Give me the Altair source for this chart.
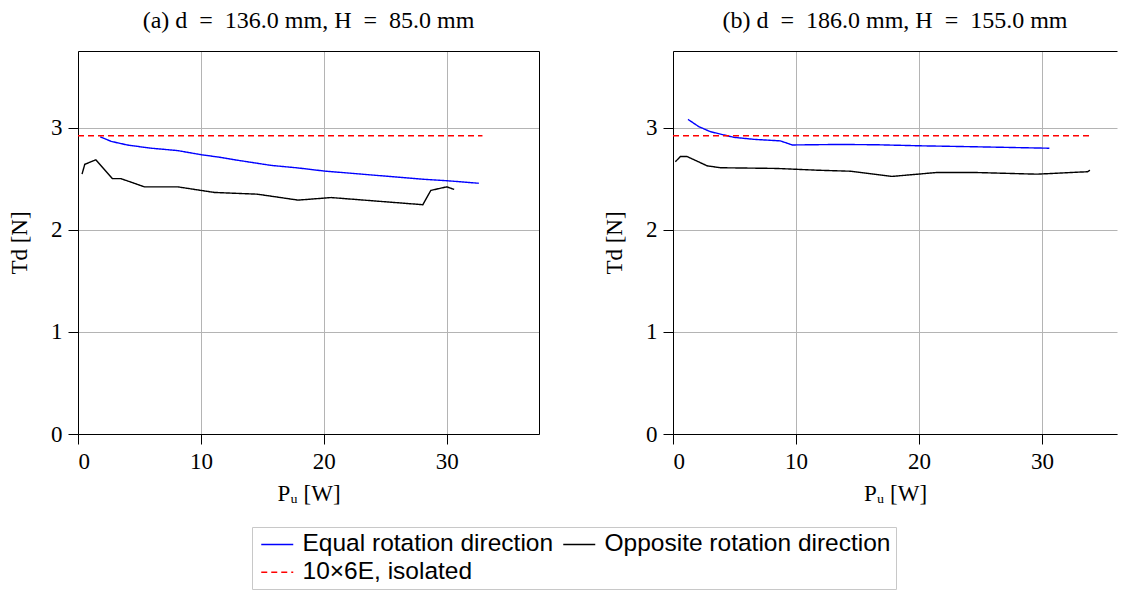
import altair as alt
import pandas as pd

# ---- data ----
series_names = ["Equal rotation direction", "Opposite rotation direction", "10\u00d76E, isolated"]
series_colors = ["#0000ff", "#000000", "#ff0000"]

# panel (a)
a_equal_P = [1.8, 2.7, 4.0, 5.8, 8.1, 10.0, 11.5, 13.0, 15.7, 17.9, 20.0, 23.0, 26.0, 28.0, 30.0, 32.6]
a_equal_T = [2.91, 2.865, 2.83, 2.80, 2.775, 2.735, 2.71, 2.68, 2.63, 2.605, 2.575, 2.545, 2.515, 2.495, 2.48, 2.455]
a_opp_P = [0.33, 0.55, 1.45, 2.8, 3.5, 5.4, 8.1, 11.1, 14.6, 17.9, 20.6, 28.05, 28.7, 30.0, 30.6]
a_opp_T = [2.545, 2.64, 2.685, 2.50, 2.50, 2.42, 2.42, 2.365, 2.348, 2.29, 2.315, 2.245, 2.385, 2.42, 2.395]
a_iso_P = [0.0, 32.9]
a_iso_T = [2.92, 2.92]

# panel (b)
b_equal_P = [1.22, 2.09, 3.04, 4.94, 6.57, 8.73, 9.69, 13.5, 16.6, 20.0, 24.7, 30.6]
b_equal_T = [3.08, 3.01, 2.96, 2.905, 2.885, 2.87, 2.83, 2.835, 2.832, 2.822, 2.812, 2.798]
b_opp_P = [0.19, 0.6, 1.14, 2.77, 3.85, 8.46, 11.7, 14.4, 17.8, 21.5, 24.7, 29.6, 33.7, 33.9]
b_opp_T = [2.665, 2.717, 2.717, 2.626, 2.607, 2.60, 2.583, 2.573, 2.522, 2.561, 2.56, 2.544, 2.568, 2.583]
b_iso_P = [0.0, 34.1]
b_iso_T = [2.92, 2.92]

x_ticks = [0, 10, 20, 30]
y_ticks = [0, 1, 2, 3]
x_domain_a = [0, 37.5]
x_domain_b = [0, 36.1]   # right panel is cut by the figure edge in the reference
y_domain = [0, 3.75]

titles = ["(a) d\u2002=\u2002136.0 mm, H\u2002=\u200285.0 mm",
          "(b) d\u2002=\u2002186.0 mm, H\u2002=\u2002155.0 mm"]


def frame(parts):
    rows = []
    for name, P, T in parts:
        for p, t in zip(P, T):
            rows.append({"P": p, "T": t, "series": name})
    return pd.DataFrame(rows)


df_a = frame([(series_names[0], a_equal_P, a_equal_T),
              (series_names[1], a_opp_P, a_opp_T),
              (series_names[2], a_iso_P, a_iso_T)])
df_b = frame([(series_names[0], b_equal_P, b_equal_T),
              (series_names[1], b_opp_P, b_opp_T),
              (series_names[2], b_iso_P, b_iso_T)])

SERIF = "Liberation Serif"
SANS = "Liberation Sans"
FS = 23

# long legend line drawn with a custom path: slot of 16 px, line of 32 px
legend = alt.Legend(
    title=None, orient="none", legendX=174, legendY=476,
    columns=2, direction="horizontal",
    symbolType="M-1,0H3", symbolSize=256, symbolStrokeWidth=1.5,
    labelFont=SANS, labelFontSize=24.5, labelColor="#000000", labelLimit=0,
    labelOffset=21, columnPadding=5, rowPadding=3, padding=5,
    fillColor="#ffffff", strokeColor="#c8c8c8",
)

edge_axis = dict(labels=False, ticks=False, grid=False, domain=True, title=None)


def panel(df, xdom, w, title, right_edge):
    xs = alt.Scale(domain=xdom, nice=False, zero=False)
    ys = alt.Scale(domain=y_domain, nice=False, zero=False)
    data_lines = alt.Chart(df).mark_line(strokeWidth=1.4, clip=True).encode(
        x=alt.X("P:Q", scale=xs, axis=alt.Axis(values=x_ticks, title="P\u1d64 [W]")),
        y=alt.Y("T:Q", scale=ys, axis=alt.Axis(values=y_ticks, title="Td [N]")),
        color=alt.Color("series:N", scale=alt.Scale(domain=series_names, range=series_colors),
                        sort=series_names, legend=legend),
        strokeDash=alt.StrokeDash("series:N",
                                  scale=alt.Scale(domain=series_names, range=[[1, 0], [1, 0], [6, 4]]),
                                  sort=series_names, legend=legend),
        detail="series:N",
    ).properties(
        width=w, height=383,
        title=alt.TitleParams(title, font=SERIF, fontSize=24, fontWeight="normal",
                              color="#000000", offset=18, anchor="middle"),
    )
    # invisible layer that only carries the top (and optionally right) frame lines
    y_edge = alt.Axis(orient="right", **edge_axis) if right_edge else None
    edges = alt.Chart(df).mark_line(opacity=0).encode(
        x=alt.X("P:Q", scale=xs, axis=alt.Axis(orient="top", **edge_axis)),
        y=alt.Y("T:Q", scale=ys, axis=y_edge),
    )
    return alt.layer(data_lines, edges).resolve_axis(x="independent", y="independent")


left = panel(df_a, x_domain_a, 461, titles[0], True)
right = panel(df_b, x_domain_b, 444, titles[1], False)

chart = alt.hconcat(left, right, spacing=63).properties(
    padding=0
).configure_view(
    stroke="transparent"
).configure_axis(
    labelFont=SERIF, labelFontSize=FS, labelColor="#000000",
    titleFont=SERIF, titleFontSize=FS, titleFontWeight="normal", titleColor="#000000",
    grid=True, gridColor="#b4b4b4", gridWidth=1,
    domainColor="#000000", domainWidth=1, tickColor="#000000", tickSize=10, tickWidth=1,
    labelPadding=6,
).configure_axisX(
    titlePadding=9,
).configure_axisY(
    titlePadding=19,
)

chart.save("out.html", embed_options={"renderer": "svg", "actions": False})
